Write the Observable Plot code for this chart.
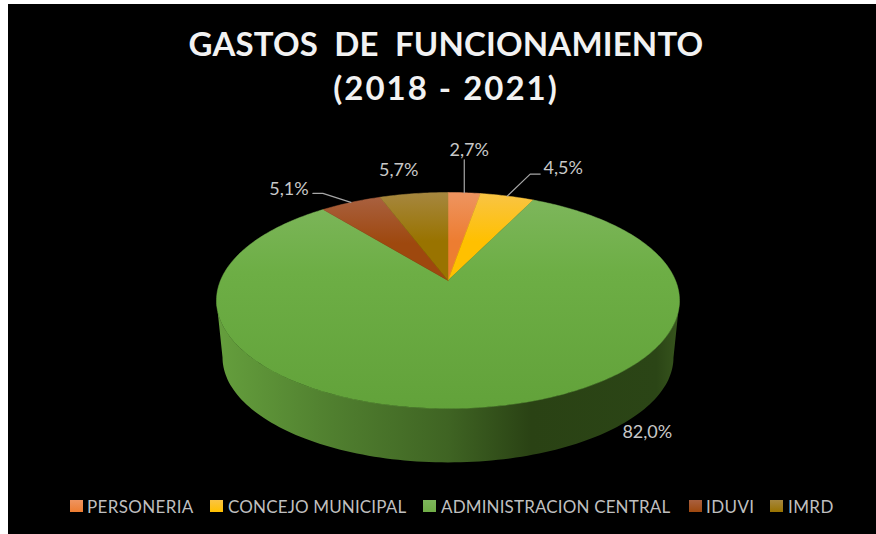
<!DOCTYPE html>
<html>
<head>
<meta charset="utf-8">
<script src="https://cdn.jsdelivr.net/npm/d3@7"></script>
<script src="https://cdn.jsdelivr.net/npm/@observablehq/plot@0.6"></script>
<style>
html,body{margin:0;padding:0;background:#fff;overflow:hidden}
#frame{position:absolute;left:8px;top:4px;width:868px;height:530px;background:#000;font-family:Lato,sans-serif}
#title{position:absolute;left:8px;right:0;top:17px;margin:0;text-align:center;color:#f2f2f2;font-size:33px;font-weight:700;line-height:44px}
#title div{white-space:pre}
#chart{position:absolute;left:0;top:106px}
#legend{position:absolute;left:0;top:491px;height:24px;width:868px;color:#bfbfbf;font-size:17px;line-height:24px}
#legend span{position:absolute;white-space:nowrap}
#legend i{position:absolute;top:5px;width:13px;height:12px}
</style>
</head>
<body>
<div id="frame">
<h1 id="title"></h1>
<div id="chart"></div>
<div id="legend"></div>
</div>
<script>
const titleLines = ["GASTOS  DE  FUNCIONAMIENTO", "(2018 - 2021)"];
const categories = ["PERSONERIA", "CONCEJO MUNICIPAL", "ADMINISTRACION CENTRAL", "IDUVI", "IMRD"];
const shares = [2.7, 4.5, 82.0, 5.1, 5.7];
const shareLabels = ["2,7%", "4,5%", "82,0%", "5,1%", "5,7%"];
const baseColors = ["#ed7d31", "#ffc000", "#70ad47", "#9e480e", "#997300"];
const topColors = ["#ee9460", "#f9c444", "#7db65b", "#a9603f", "#a6873f"];

// layout of the tilted disc (pixels inside the svg)
const W = 868, H = 380, cx = 439.5, apexY = 170;
const rX = 227.5, rY = 104.3, tilt = 0.185;
const depth = {scale: 0.974, yScale: 0.972, yFrom: -0.192, yTo: -0.738};

// disc angle (clockwise from the back) -> scene coordinates
const rim = (t) => {
  const u = Math.sin(t), v = Math.cos(t), p = 1 + tilt * v;
  return [u / p, v / p];
};
const lower = ([x, y]) => [x * depth.scale, depth.yTo + (y - depth.yFrom) * depth.yScale];
const toAngle = (pct) => (pct / 100) * 2 * Math.PI;

let cum = 0;
const slices = categories.map((name, i) => {
  const start = cum; cum += shares[i];
  const points = [[0, 0]];
  const n = Math.max(8, Math.round(shares[i] * 4));
  for (let k = 0; k <= n; ++k) points.push(rim(toAngle(start + (shares[i] * k) / n)));
  points.push([0, 0]);
  return {name, i, mid: start + shares[i] / 2, points};
});

// visible wall of the cylinder, between the two outermost rim points
const t0 = Math.acos(-tilt);
const wallTop = d3.range(0, 121).map((k) => rim(t0 + ((2 * Math.PI - 2 * t0) * k) / 120));
const wall = [...wallTop, ...wallTop.map(lower).reverse()];

// leaders and label placement, as pixel offsets from an anchor on the rim
const sx = (px) => px / rX, sy = (px) => -px / rY;
const labelOffsets = [
  {leader: [[0, -33]], label: [5, -43]},
  {leader: [[23, -22], [33, -22]], label: [56, -28]},
  {leader: [], label: [24, 9], wallAt: 38},
  {leader: [[-28, -9], [-38, -9]], label: [-62, -13]},
  {leader: [], label: [-15, -23]}
];
const labels = slices.map((s) => {
  const o = labelOffsets[s.i];
  const p = rim(toAngle(s.mid));
  const at = o.wallAt ? lower(rim(toAngle(o.wallAt))) : p;
  const line = [p, ...o.leader.map(([dx, dy]) => [p[0] + sx(dx), p[1] + sy(dy)])];
  return {text: shareLabels[s.i], x: at[0] + sx(o.label[0]), y: at[1] + sy(o.label[1]), line, i: s.i};
});

function gradients() {
  const defs = d3.create("svg:defs");
  categories.forEach((_, i) => {
    const g = defs.append("linearGradient").attr("id", `top${i}`).attr("x1", 0).attr("x2", 0).attr("y1", 0).attr("y2", 1);
    const stops = i === 2
      ? [[0, topColors[i]], [0.35, "#6dae45"], [1, "#62a23a"]]
      : [[0, topColors[i]], [0.55, baseColors[i]], [1, baseColors[i]]];
    stops.forEach(([o, c]) => g.append("stop").attr("offset", o).attr("stop-color", c));
  });
  const w = defs.append("linearGradient").attr("id", "wall").attr("x1", 0).attr("x2", 1).attr("y1", 0).attr("y2", 0);
  [[0, "#659f3d"], [0.25, "#507f2f"], [0.5, "#3f6423"], [0.68, "#2a4214"], [0.95, "#2b4516"], [1, "#37551d"]]
    .forEach(([o, c]) => w.append("stop").attr("offset", o).attr("stop-color", c));
  return defs.node();
}

const xy = {x: (d) => d[0], y: (d) => d[1]};
const titleSpacing = [0.15, 2];
titleLines.forEach((line, i) => {
  const d = document.createElement("div");
  d.textContent = line;
  d.style.letterSpacing = titleSpacing[i] + "px";
  document.getElementById("title").append(d);
});

const chart = Plot.plot({
  width: W, height: H, margin: 0,
  style: {background: "transparent", overflow: "visible"},
  x: {axis: null, domain: [-1, 1], range: [cx - rX, cx + rX]},
  y: {axis: null, domain: [-1, 1], range: [apexY + rY, apexY - rY]},
  marks: [
    gradients,
    Plot.line(wall, {...xy, fill: "url(#wall)", stroke: "none"}),
    ...slices.map((s) => Plot.line(s.points, {...xy, fill: `url(#top${s.i})`, stroke: `url(#top${s.i})`, strokeWidth: 0.5})),
    ...labels.filter((l) => l.line.length > 1).map((l) => Plot.line(l.line, {...xy, stroke: "#a6a6a6", strokeWidth: 1.2})),
    Plot.text(labels, {x: "x", y: "y", text: "text", fill: "#c8c8c8", fontSize: 18, fontFamily: "Lato, sans-serif"})
  ]
});
document.getElementById("chart").append(chart);

const legendLeft = [62, 202, 415, 681, 762];
const legendText = [79, 220, 433, 698, 780];
const legendSpacing = [0.35, 0.15, 0.15, 0.4, 0.4];
const legend = document.getElementById("legend");
categories.forEach((name, i) => {
  const sw = document.createElement("i");
  sw.style.left = legendLeft[i] + "px";
  sw.style.background = `linear-gradient(${topColors[i]},${baseColors[i]})`;
  legend.append(sw);
  const t = document.createElement("span");
  t.textContent = name;
  t.style.left = legendText[i] + "px";
  t.style.letterSpacing = legendSpacing[i] + "px";
  legend.append(t);
});
</script>
</body>
</html>
